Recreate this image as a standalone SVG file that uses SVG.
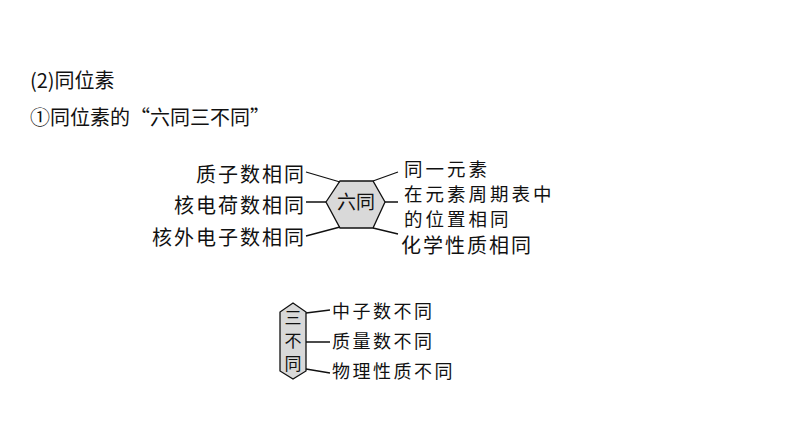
<svg xmlns="http://www.w3.org/2000/svg" width="794" height="447" viewBox="0 0 794 447">
<style>
text{font-family:"Noto Sans CJK SC","Liberation Sans",sans-serif;fill:#111}
.t{font-size:20px;letter-spacing:2px}.s{font-size:18px;letter-spacing:2.5px}
.r{font-size:18.5px;letter-spacing:3px}
.l{stroke:#111;stroke-width:1.3;fill:none}
.h{fill:#d9d9d9;stroke:#111;stroke-width:1.3}
</style>
<rect width="794" height="447" fill="#fff"/>
<text x="30" y="88" style="font-size:20px">(2)同位素</text>
<text x="30" y="125" style="font-size:20px">①同位素的“六同三不同”</text>
<g id="six"><polygon class="h" points="326,202 340,181 373,181 385,202 373,228 340,228"/>
<text x="356" y="209" style="font-size:19px" text-anchor="middle">六同</text></g>
<g id="left" text-anchor="end">
<text x="306" y="182" class="t">质子数相同</text>
<text x="306" y="213" class="t">核电荷数相同</text>
<text x="306" y="245" class="t">核外电子数相同</text></g>
<g id="right">
<text x="404" y="176" class="r">同一元素</text>
<text x="404" y="201" class="r">在元素周期表中</text>
<text x="404" y="226" class="r">的位置相同</text>
<text x="401" y="253" class="t">化学性质相同</text></g>
<g id="three"><polygon class="h" points="293,303 306,312 306,371 293,379 280,371 280,312"/>
<text x="293" y="324" style="font-size:17px" text-anchor="middle">三</text>
<text x="293" y="347" style="font-size:17px" text-anchor="middle">不</text>
<text x="293" y="370" style="font-size:17px" text-anchor="middle">同</text></g>
<g id="three-items">
<text x="332" y="318" class="s">中子数不同</text>
<text x="332" y="348" class="s">质量数不同</text>
<text x="332" y="378" class="s">物理性质不同</text></g>
<g id="connectors">
<path class="l" d="M306,172L340,182M306,202H326M306,236L340,227M373,181L398,172M385,202H398M373,228L398,234M306,313L330,310M306,342H330M306,369L330,373"/>
</g>
</svg>
